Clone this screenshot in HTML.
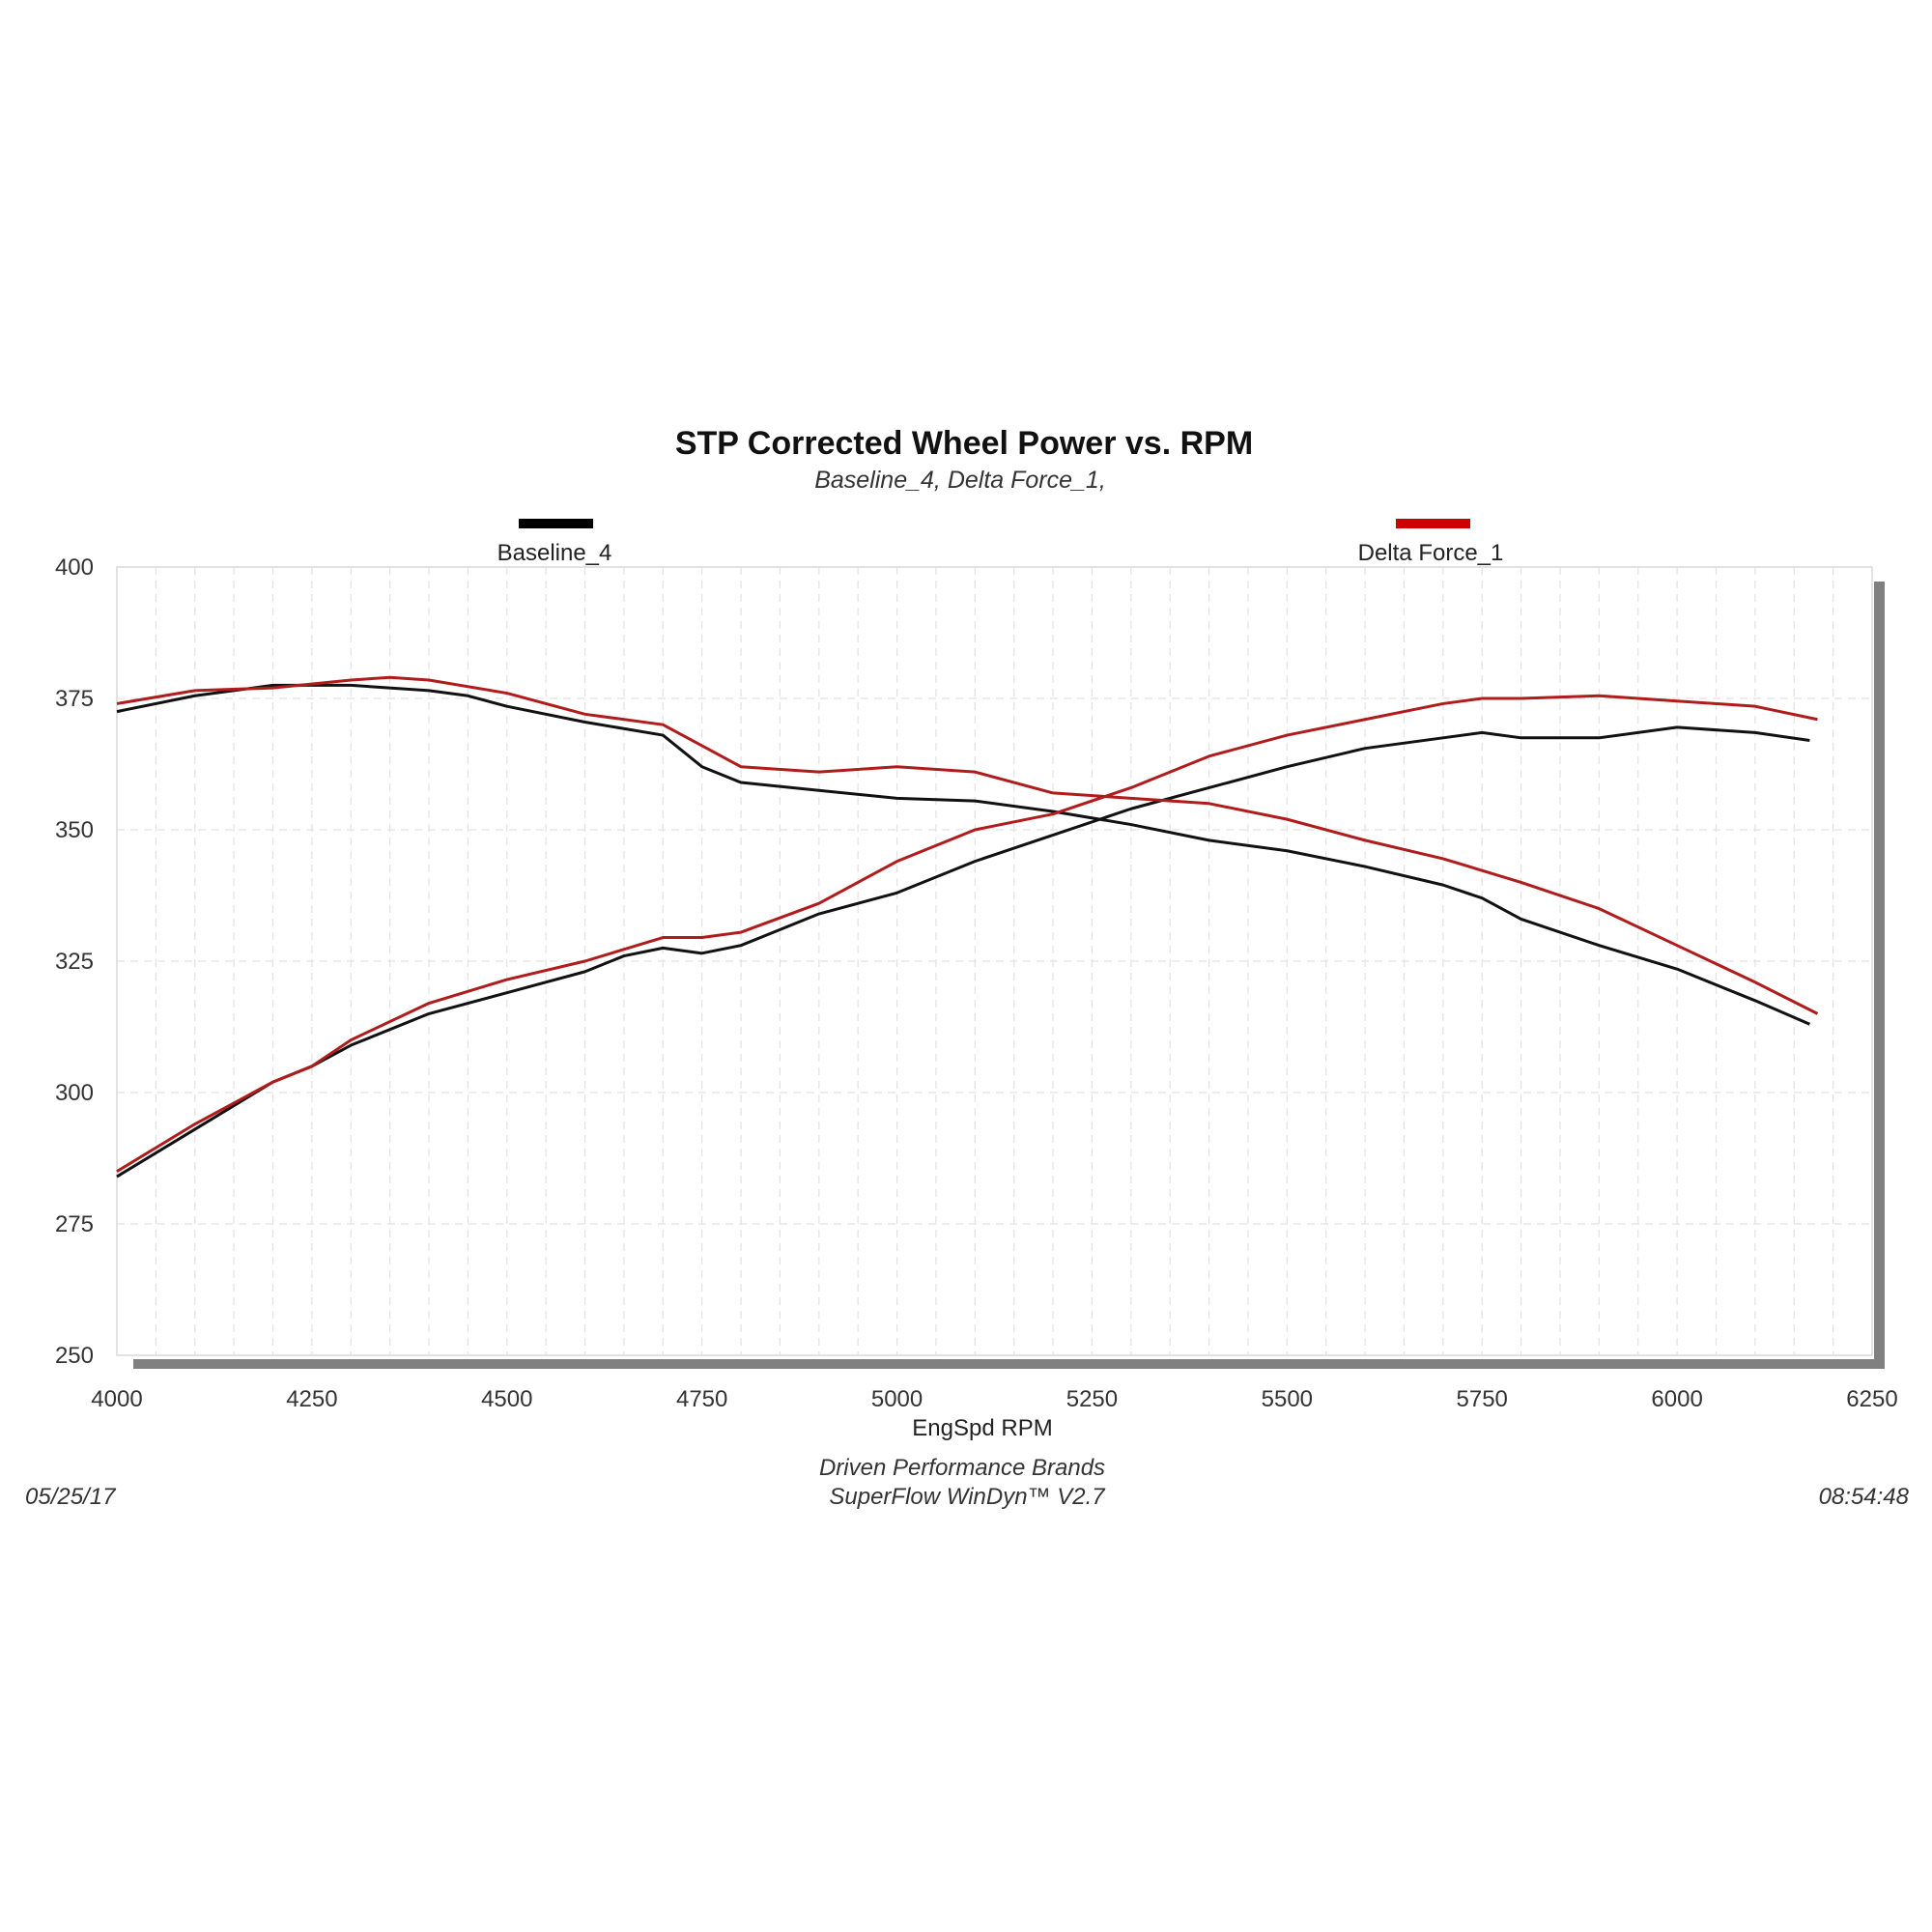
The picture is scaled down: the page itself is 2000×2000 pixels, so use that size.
<!DOCTYPE html>
<html><head><meta charset="utf-8"><style>
body{margin:0;background:#fff;}
svg{display:block;font-family:"Liberation Sans",sans-serif;}
</style></head><body>
<svg id="chart" width="2000" height="2000" viewBox="0 0 2000 2000">
<text x="998" y="470" text-anchor="middle" font-size="34" font-weight="bold" fill="#111">STP Corrected Wheel Power vs. RPM</text>
<text x="994" y="505" text-anchor="middle" font-size="25" font-style="italic" fill="#333">Baseline_4, Delta Force_1,</text>
<rect x="537" y="537" width="77" height="10" fill="#000"/>
<text x="574" y="580" text-anchor="middle" font-size="24" fill="#222">Baseline_4</text>
<rect x="1445" y="537" width="77" height="10" fill="#cc0000"/>
<text x="1481" y="580" text-anchor="middle" font-size="24" fill="#222">Delta Force_1</text>
<rect x="1940" y="602" width="11" height="815" fill="#808080"/>
<rect x="138" y="1407" width="1813" height="10" fill="#808080"/>
<rect x="121" y="587" width="1817" height="816" fill="#fff" stroke="#d8d8d8" stroke-width="1.5"/>
<g id="grid"></g>
<g id="axes"></g>
<g id="series"></g>
<text x="1017" y="1486" text-anchor="middle" font-size="24" fill="#222">EngSpd  RPM</text>
<text x="996" y="1527" text-anchor="middle" font-size="24" font-style="italic" fill="#333">Driven Performance Brands</text>
<text x="1001" y="1557" text-anchor="middle" font-size="24" font-style="italic" fill="#333">SuperFlow WinDyn™  V2.7</text>
<text x="26" y="1557" font-size="24" font-style="italic" fill="#333">05/25/17</text>
<text x="1976" y="1557" text-anchor="end" font-size="24" font-style="italic" fill="#333">08:54:48</text>
</svg>
<script>
const xTicks=[4000,4250,4500,4750,5000,5250,5500,5750,6000,6250];
const yTicks=[250,275,300,325,350,375,400];
const bPowRpm=[4000,4100,4200,4250,4300,4400,4500,4600,4650,4700,4750,4800,4850,4900,5000,5100,5200,5300,5400,5500,5600,5700,5750,5800,5900,6000,6100,6170];
const bPow=[284,293,302,305,309,315,319,323,326,327.5,326.5,328,331,334,338,344,349,354,358,362,365.5,367.5,368.5,367.5,367.5,369.5,368.5,367];
const rPowRpm=[4000,4100,4200,4250,4300,4400,4500,4600,4700,4750,4800,4900,5000,5100,5200,5300,5400,5500,5600,5700,5750,5800,5900,6000,6100,6180];
const rPow=[285,294,302,305,310,317,321.5,325,329.5,329.5,330.5,336,344,350,353,358,364,368,371,374,375,375,375.5,374.5,373.5,371];
const bTqRpm=[4000,4100,4200,4300,4400,4450,4500,4600,4700,4750,4800,4900,5000,5100,5200,5300,5400,5500,5600,5700,5750,5800,5900,6000,6100,6170];
const bTq=[372.5,375.5,377.5,377.5,376.5,375.5,373.5,370.5,368,362,359,357.5,356,355.5,353.5,351,348,346,343,339.5,337,333,328,323.5,317.5,313];
const rTqRpm=[4000,4100,4200,4300,4350,4400,4500,4600,4700,4750,4800,4900,5000,5100,5200,5300,5400,5500,5600,5700,5800,5900,6000,6100,6180];
const rTq=[374,376.5,377,378.5,379,378.5,376,372,370,366,362,361,362,361,357,356,355,352,348,344.5,340,335,328,321,315];
const NS='http://www.w3.org/2000/svg';
const X=v=>121+(v-4000)/2250*1817;
const Y=v=>587+(400-v)/150*816;
const grid=document.getElementById('grid'),axes=document.getElementById('axes'),series=document.getElementById('series');
for(let r=4050;r<6250;r+=50){
 const l=document.createElementNS(NS,'line');
 
 
 l.setAttribute('x1',X(r));l.setAttribute('x2',X(r));l.setAttribute('y1',Y(400));l.setAttribute('y2',Y(250));
 l.setAttribute('stroke','#e2e2e2');l.setAttribute('stroke-width','1.2');l.setAttribute('stroke-dasharray','8,6');
 grid.appendChild(l);
}
yTicks.forEach(v=>{
 if(v>250&&v<400){
 const l=document.createElementNS(NS,'line');
 
 
 l.setAttribute('x1',X(4000));l.setAttribute('x2',X(6250));l.setAttribute('y1',Y(v));l.setAttribute('y2',Y(v));
 l.setAttribute('stroke','#e2e2e2');l.setAttribute('stroke-width','1.2');l.setAttribute('stroke-dasharray','8,6');
 grid.appendChild(l);}
 const t=document.createElementNS(NS,'text');
 
 
 t.setAttribute('x',97);t.setAttribute('y',Y(v)+8);t.setAttribute('text-anchor','end');t.setAttribute('font-size','24');t.setAttribute('fill','#333');
 t.textContent=v;axes.appendChild(t);
});
xTicks.forEach(v=>{
 const t=document.createElementNS(NS,'text');
 
 
 t.setAttribute('x',X(v));t.setAttribute('y',1456);t.setAttribute('text-anchor','middle');t.setAttribute('font-size','24');t.setAttribute('fill','#333');
 t.textContent=v;axes.appendChild(t);
});
function draw(xs,ys,color,name){
 const p=document.createElementNS(NS,'polyline');
 
 
 p.setAttribute('points',xs.map((x,i)=>X(x)+','+Y(ys[i])).join(' '));
 p.setAttribute('fill','none');p.setAttribute('stroke',color);p.setAttribute('stroke-width','3');p.setAttribute('stroke-linejoin','round');
 series.appendChild(p);
}
draw(bPowRpm,bPow,'#111','baseline-power-line');
draw(bTqRpm,bTq,'#111','baseline-torque-line');
draw(rPowRpm,rPow,'#b01c1c','delta-force-power-line');
draw(rTqRpm,rTq,'#b01c1c','delta-force-torque-line');
</script>
</body></html>
